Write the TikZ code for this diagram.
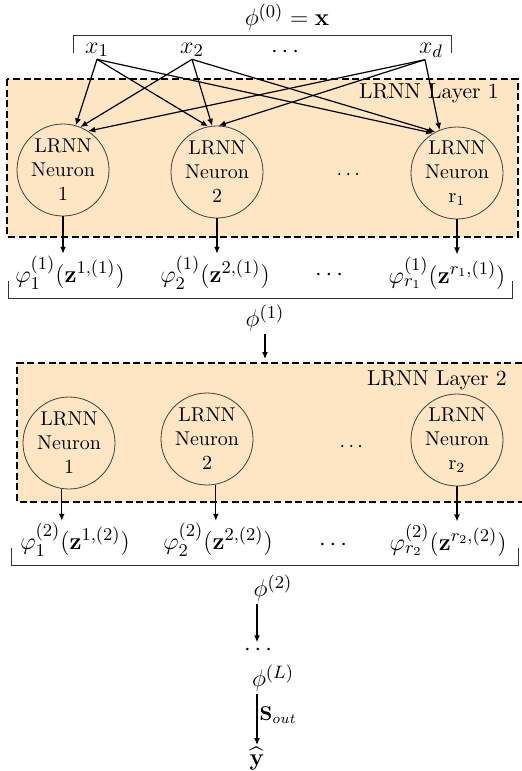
\documentclass[tikz,border=0pt]{standalone}
\usepackage{amsmath,amssymb}
\usetikzlibrary{arrows.meta,calc}
\definecolor{layerfill}{RGB}{254,230,196}
\begin{document}
\begin{tikzpicture}[x=0.5pt,y=-0.5pt,
  neuron/.style={circle,draw=black!75,line width=0.4pt,minimum size=46pt,inner sep=0pt,align=center,font=\normalsize},
  mathlbl/.style={font=\fontsize{12.8}{15}\selectfont,inner sep=1pt},
  layerlbl/.style={font=\fontsize{10.8}{13}\selectfont,anchor=east,inner sep=1pt},
  arr/.style={-{Latex[length=3.5pt,width=3pt]},line width=0.6pt},
  layerbox/.style={dash pattern=on 3.5pt off 1.8pt,line width=1.4pt},
  brk/.style={line width=0.5pt,draw=black!80}]
\useasboundingbox (0,0) rectangle (522,771);
% layer boxes
\fill[layerfill] (7,79) rectangle (518,237);
\draw[layerbox] (7,79) rectangle (518,237);
\fill[layerfill] (17,363) rectangle (522,502);
\draw[layerbox] (522,363) -- (17,363) -- (17,502) -- (522,502);
% top
\node[mathlbl] (phi0) at (287,17) {$\phi^{(0)}=\mathbf{x}$};
\draw[brk] (73,53) -- (73,35) -- (451,35) -- (451,53);
\node[mathlbl] (x1) at (97,50) {$x_1$};
\node[mathlbl] (x2) at (192,50) {$x_2$};
\node[mathlbl] (xdots) at (287,52) {$\cdots$};
\node[mathlbl] (xd) at (431,50) {$x_d$};
\coordinate (xdb) at ($(xd.south)+(-6,0)$);
% layer 1
\node[layerlbl] (lab1) at (501,93) {LRNN Layer 1};
\node[neuron] (n11) at (63,170) {LRNN\\Neuron\\1};
\node[neuron] (n12) at (217,172) {LRNN\\Neuron\\2};
\node (d1) at (350,175) {$\cdots$};
\node[neuron] (n1r) at (457,173) {LRNN\\Neuron\\r$_1$};
\draw[arr] (x1.south) -- (n11.74);
\draw[arr] (x2.south) -- (n11.68);
\draw[arr] (xdb) -- (n11.57);
\draw[arr] (x1.south) -- (n12.101);
\draw[arr] (x2.south) -- (n12.96);
\draw[arr] (xdb) -- (n12.88);
\draw[arr] (x1.south) -- (n1r.121);
\draw[arr] (x2.south) -- (n1r.118);
\draw[arr] (xdb) -- (n1r.112);
% layer 1 outputs
\node[mathlbl] (o11) at (70,273) {$\varphi_1^{(1)}(\mathbf{z}^{1,(1)})$};
\node[mathlbl] (o12) at (215,273) {$\varphi_2^{(1)}(\mathbf{z}^{2,(1)})$};
\node[mathlbl] (od1) at (331,275) {$\cdots$};
\node[mathlbl] (o1r) at (447,273) {$\varphi_{r_1}^{(1)}(\mathbf{z}^{r_1,(1)})$};
\draw[arr] (n11.south) -- (n11.south |- o11.north);
\draw[arr] (n12.south) -- (n12.south |- o12.north);
\draw[arr] (n1r.south) -- (n1r.south |- o1r.north);
\draw[brk] (8,281) -- (8,298) -- (512,298) -- (512,281);
\node[mathlbl] (phi1) at (265,318) {$\phi^{(1)}$};
\coordinate (l2in) at (265,359);
\draw[arr] (phi1.south -| l2in) -- (l2in);
% layer 2
\node[layerlbl] (lab2) at (509,380) {LRNN Layer 2};
\node[neuron] (n21) at (69,443) {LRNN\\Neuron\\1};
\node[neuron] (n22) at (207,439) {LRNN\\Neuron\\2};
\node (d2) at (353,447) {$\cdots$};
\node[neuron] (n2r) at (457,440) {LRNN\\Neuron\\r$_2$};
\node[mathlbl] (o21) at (75,540) {$\varphi_1^{(2)}(\mathbf{z}^{1,(2)})$};
\node[mathlbl] (o22) at (218,540) {$\varphi_2^{(2)}(\mathbf{z}^{2,(2)})$};
\node[mathlbl] (od2) at (335,545) {$\cdots$};
\node[mathlbl] (o2r) at (448,540) {$\varphi_{r_2}^{(2)}(\mathbf{z}^{r_2,(2)})$};
\draw[arr] (n21.-99) -- (n21.-99 |- o21.north);
\draw[arr] (n22.-79) -- (n22.-79 |- o22.north);
\draw[arr] (n2r.south) -- (n2r.south |- o2r.north);
\draw[brk] (11,548) -- (11,565) -- (518,565) -- (518,548);
% bottom chain
\coordinate (colx) at (257,0);
\node[mathlbl] (phi2) at (273,588) {$\phi^{(2)}$};
\node[mathlbl] (bdots) at (260,650) {$\cdots$};
\node[mathlbl] (phiL) at (273,678) {$\phi^{(L)}$};
\node[mathlbl] (yhat) at (257,759) {$\widehat{\mathbf{y}}$};
\draw[arr] (colx |- phi2.south) -- (colx |- bdots.north);
\draw[arr] (colx |- phiL.south) -- node[right,inner sep=1pt,font=\normalsize,pos=0.42] (sout) {$\mathbf{S}_{out}$} (colx |- yhat.north);
\end{tikzpicture}
\end{document}
